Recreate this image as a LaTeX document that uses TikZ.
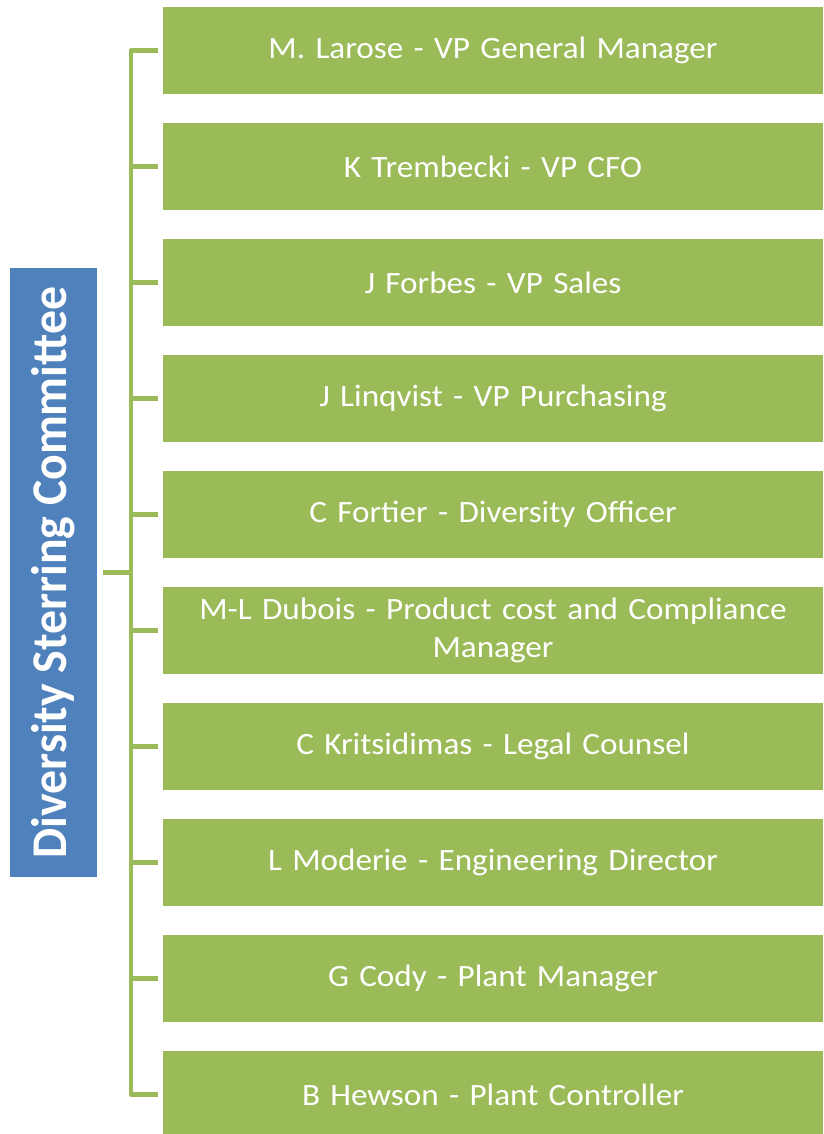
\documentclass[tikz,border=0pt]{standalone}
\usepackage{fontspec}
\setmainfont{Carlito}
\newfontfamily\memberfont[FakeStretch=1.07]{Carlito}
\newfontfamily\committeefont[FakeStretch=0.955]{Carlito}
\usetikzlibrary{positioning}
\definecolor{memgreen}{HTML}{9BBB59}
\definecolor{dscblue}{HTML}{4F81BD}

\begin{document}
\begin{tikzpicture}[x=1pt,y=-1pt,
    member/.style={fill=memgreen, text=white, minimum width=660pt, minimum height=87pt,
      text width=650pt, align=center, inner sep=0pt, font=\memberfont\fontsize{31}{38}\selectfont},
    committee/.style={fill=dscblue, text=white, minimum width=609pt, minimum height=87pt,
      inner sep=0pt, font=\committeefont\fontsize{50}{58}\selectfont\bfseries},
    link/.style={draw=memgreen, line width=4.5pt}]
        \useasboundingbox (0,0) rectangle (823,1134);

        % committee on the left
        \node[committee, rotate=90] (dsc) at (53.5,572.5) {Diversity Sterring Committee};
        \coordinate (hub) at (131,572.5);

        % members
        \node[member] (larose) at (493,50.5) {M. Larose - VP General Manager};
        \node[member] (trembecki) at (493,166.5) {K Trembecki - VP CFO};
        \node[member] (forbes) at (493,282.5) {J Forbes - VP Sales};
        \node[member] (linqvist) at (493,398.5) {J Linqvist - VP Purchasing};
        \node[member] (fortier) at (493,514.5) {C Fortier - Diversity Officer};
        \node[member] (dubois) at (493,630.5) {M-L Dubois - Product cost and Compliance\\Manager};
        \node[member] (kritsidimas) at (493,746.5) {C Kritsidimas - Legal Counsel};
        \node[member] (moderie) at (493,862.5) {L Moderie - Engineering Director};
        \node[member] (cody) at (493,978.5) {G Cody - Plant Manager};
        \node[member] (hewson) at (493,1094.5) {B Hewson - Plant Controller};

        % bracket
        \draw[link, shorten >=6pt] (hub) -- (dsc);
        \draw[link, line join=round, shorten <=5pt, shorten >=5pt]
            (larose) -- (hub |- larose) -- (hub |- hewson) -- (hewson);
        \draw[link, shorten >=5pt] (hub |- trembecki) -- (trembecki);
        \draw[link, shorten >=5pt] (hub |- forbes) -- (forbes);
        \draw[link, shorten >=5pt] (hub |- linqvist) -- (linqvist);
        \draw[link, shorten >=5pt] (hub |- fortier) -- (fortier);
        \draw[link, shorten >=5pt] (hub |- dubois) -- (dubois);
        \draw[link, shorten >=5pt] (hub |- kritsidimas) -- (kritsidimas);
        \draw[link, shorten >=5pt] (hub |- moderie) -- (moderie);
        \draw[link, shorten >=5pt] (hub |- cody) -- (cody);
\end{tikzpicture}
\end{document}
